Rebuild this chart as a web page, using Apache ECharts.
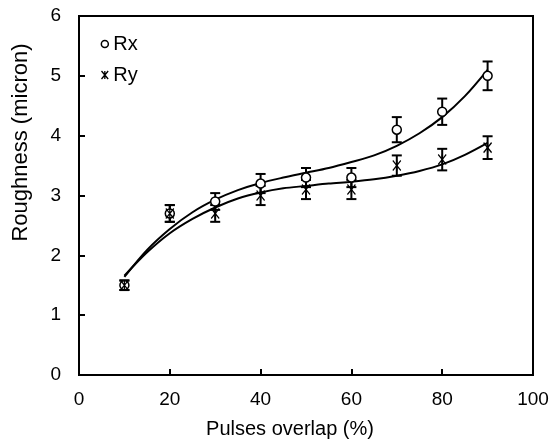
<!DOCTYPE html>
<html>
<head>
<meta charset="utf-8">
<script src="https://cdn.jsdelivr.net/npm/echarts@6/dist/echarts.min.js"></script>
<style>html,body{margin:0;padding:0;background:#fff;}#c{width:553px;height:446px;}</style>
</head>
<body>
<div id="c"></div>
<script>
// Measured points
const xValues = [10, 20, 30, 40, 50, 60, 70, 80, 90];
const rxValues = [1.5, 2.7, 2.9, 3.2, 3.3, 3.3, 4.1, 4.4, 5.0];
const rxErrors = [0.08, 0.14, 0.14, 0.16, 0.16, 0.16, 0.21, 0.22, 0.24];
const ryValues = [1.5, 2.7, 2.7, 3.0, 3.1, 3.1, 3.5, 3.6, 3.8];
const ryErrors = [0.08, 0.14, 0.14, 0.16, 0.16, 0.16, 0.17, 0.18, 0.19];
// Trendlines
const trendX = [10, 15, 20, 25, 30, 35, 40, 45, 50, 55, 60, 65, 70, 75, 80, 85, 90];
const rxTrend = [1.64, 2.09, 2.44, 2.72, 2.93, 3.09, 3.21, 3.30, 3.38, 3.46, 3.56, 3.67, 3.83, 4.04, 4.31, 4.66, 5.10];
const ryTrend = [1.66, 2.05, 2.37, 2.61, 2.80, 2.95, 3.05, 3.12, 3.16, 3.20, 3.23, 3.27, 3.33, 3.41, 3.52, 3.68, 3.88];
const xTicks = [0, 20, 40, 60, 80, 100];
const yTicks = [0, 1, 2, 3, 4, 5, 6];

const FONT = 'Liberation Sans, Arial, sans-serif';
const starPath = 'path://M0,0L10,12M10,0L0,12M5,0L5,12';

function pairs(xs, ys) { return xs.map((x, i) => [x, ys[i]]); }
function errData(xs, ys, es) { return xs.map((x, i) => [x, ys[i] - es[i], ys[i] + es[i]]); }

function errRender(params, api) {
  const x = api.value(0), lo = api.value(1), hi = api.value(2);
  const a = api.coord([x, hi]), b = api.coord([x, lo]);
  const w = 5;
  const st = { stroke: '#000', lineWidth: 2 };
  return {
    type: 'group',
    children: [
      { type: 'line', shape: { x1: a[0], y1: a[1], x2: b[0], y2: b[1] }, style: st },
      { type: 'line', shape: { x1: a[0] - w, y1: a[1], x2: a[0] + w, y2: a[1] }, style: st },
      { type: 'line', shape: { x1: b[0] - w, y1: b[1], x2: b[0] + w, y2: b[1] }, style: st }
    ]
  };
}

const chart = echarts.init(document.getElementById('c'), null, { renderer: 'canvas' });
chart.setOption({
  animation: false,
  backgroundColor: '#fff',
  textStyle: { fontFamily: FONT },
  grid: { left: 79, right: 20, top: 16, bottom: 71, show: true, borderColor: '#000', borderWidth: 2, backgroundColor: 'transparent' },
  legend: {
    data: [
      { name: 'Rx', icon: 'circle', itemStyle: { color: '#fff', borderColor: '#000', borderWidth: 1.5, opacity: 1 } },
      { name: 'Ry', icon: starPath, itemStyle: { color: 'none', borderColor: '#000', borderWidth: 1.3, opacity: 1 } }
    ],
    orient: 'vertical',
    left: 99, top: 34, padding: 0,
    itemWidth: 7, itemHeight: 8, itemGap: 11,
    textStyle: { fontSize: 20, color: '#000', fontFamily: FONT, lineHeight: 20 }
  },
  xAxis: {
    type: 'value', min: xTicks[0], max: xTicks[xTicks.length - 1], interval: 20,
    name: 'Pulses overlap (%)', nameLocation: 'middle', nameGap: 44,
    nameTextStyle: { fontSize: 20, color: '#000', fontFamily: FONT, padding: [0, 32, 0, 0] },
    axisLine: { lineStyle: { color: '#000', width: 2 } },
    axisTick: { inside: true, length: 6, lineStyle: { color: '#000', width: 2 } },
    axisLabel: { fontSize: 19, color: '#000', margin: 15, fontFamily: FONT },
    splitLine: { show: false }
  },
  yAxis: {
    type: 'value', min: yTicks[0], max: yTicks[yTicks.length - 1], interval: 1,
    name: 'Roughness (micron)', nameLocation: 'middle', nameGap: 47,
    nameTextStyle: { fontSize: 22, color: '#000', fontFamily: FONT, padding: [0, 0, 0, 106] },
    axisLine: { lineStyle: { color: '#000', width: 2 } },
    axisTick: { inside: true, length: 6, lineStyle: { color: '#000', width: 2 } },
    axisLabel: { fontSize: 19, color: '#000', margin: 18, fontFamily: FONT },
    splitLine: { show: false }
  },
  series: [
    { name: 'Rx trend', type: 'line', data: pairs(trendX, rxTrend), smooth: 0.3, showSymbol: false, symbol: 'none',
      lineStyle: { color: '#000', width: 2 }, z: 1 },
    { name: 'Ry trend', type: 'line', data: pairs(trendX, ryTrend), smooth: 0.3, showSymbol: false, symbol: 'none',
      lineStyle: { color: '#000', width: 2 }, z: 1 },
    { name: 'Rx err', type: 'custom', renderItem: errRender, data: errData(xValues, rxValues, rxErrors), encode: { x: 0, y: [1, 2] }, z: 2 },
    { name: 'Ry err', type: 'custom', renderItem: errRender, data: errData(xValues, ryValues, ryErrors), encode: { x: 0, y: [1, 2] }, z: 2 },
    { name: 'Rx', type: 'scatter', data: pairs(xValues, rxValues), symbol: 'circle', symbolSize: 9,
      itemStyle: { color: '#fff', borderColor: '#000', borderWidth: 1.5, opacity: 1 }, z: 3 },
    { name: 'Ry', type: 'scatter', data: pairs(xValues, ryValues), symbol: starPath, symbolSize: [8, 10],
      itemStyle: { color: 'none', borderColor: '#000', borderWidth: 1.3, opacity: 1 }, z: 4 }
  ]
});
</script>
</body>
</html>
